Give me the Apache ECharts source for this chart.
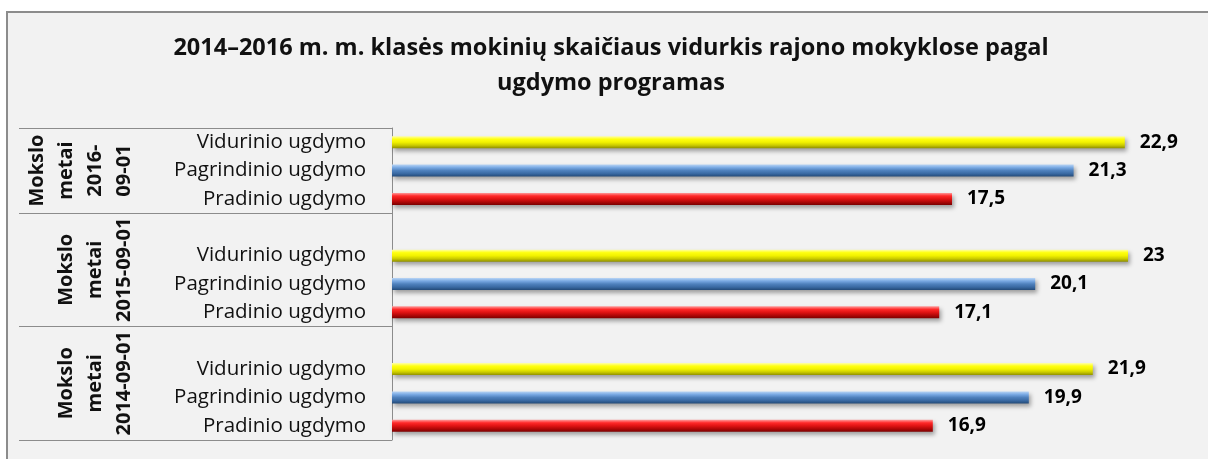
<!DOCTYPE html>
<html>
<head>
<meta charset="utf-8">
<script src="https://cdn.jsdelivr.net/npm/echarts@6/dist/echarts.min.js"></script>
<style>
  html, body { margin: 0; padding: 0; background: #fff; }
  #main { width: 1208px; height: 459px; }
</style>
</head>
<body>
<div id="main"></div>
<script>
var chartDom = document.getElementById('main');
var myChart = echarts.init(chartDom);
var option;

// data, bottom group first (as Excel draws it)
const levels = ['Pradinio ugdymo', 'Pagrindinio ugdymo', 'Vidurinio ugdymo'];
const groupLabels = ['Mokslo\nmetai\n2014-09-01', 'Mokslo\nmetai\n2015-09-01', 'Mokslo\nmetai\n2016-\n09-01'];
const pradinio = [16.9, 17.1, 17.5];
const pagrindinio = [19.9, 20.1, 21.3];
const vidurinio = [21.9, 23, 22.9];

const FONT = '"Open Sans"';

// categories: 3 levels per group, one empty slot between groups
let categories = [];
let levelOf = [];
let groupOf = [];
let groupEdges = [-0.5];
let groupCenters = [];
groupLabels.forEach((g, gi) => {
  let start = categories.length;
  levels.forEach((l, li) => {
    categories.push(l);
    levelOf.push(li);
    groupOf.push(gi);
  });
  if (gi < groupLabels.length - 1) {
    categories.push('');
    levelOf.push(-1);
    groupOf.push(gi);
  }
  let end = categories.length - 1;
  groupEdges.push(end + 0.5);
  groupCenters.push((start - 0.5 + end + 0.5) / 2);
});

function seriesData(values, li) {
  return categories.map((c, i) => levelOf[i] == li ? values[groupOf[i]] : null);
}

function grad(stops) {
  return new echarts.graphic.LinearGradient(0, 0, 0, 1, stops.map((c, i) => ({ offset: i / (stops.length - 1), color: c })));
}

const barStyles = [
  grad(['#ff9a9a', '#ff2a2a', '#e01414', '#b00808', '#7a0000']),
  grad(['#b9d5f5', '#79a9e3', '#4f81bd', '#3a6aa3', '#234a78']),
  grad(['#ffffa8', '#ffff10', '#f2f200', '#cccc00', '#8f8f00'])
];

function makeSeries(name, values, li) {
  return {
    name: name,
    type: 'bar',
    stack: 'one',
    barWidth: 12,
    data: seriesData(values, li),
    itemStyle: {
      color: barStyles[li],
      shadowColor: 'rgba(0,0,0,0.35)',
      shadowBlur: 4,
      shadowOffsetX: 2,
      shadowOffsetY: 3
    },
    label: {
      show: true,
      position: 'right',
      distance: 15,
      fontFamily: FONT,
      fontSize: 19,
      fontWeight: 'bold',
      color: '#000',
      formatter: p => p.value == null ? '' : String(p.value).replace('.', ',')
    }
  };
}

option = {
  backgroundColor: '#fff',
  animation: false,
  graphic: [
    {
      type: 'rect',
      left: 6,
      top: 11,
      z: -10,
      shape: { width: 1220, height: 470 },
      style: { fill: '#f2f2f2', stroke: '#8c8c8c', lineWidth: 2 }
    }
  ],
  title: {
    text: '2014–2016 m. m. klasės mokinių skaičiaus vidurkis rajono mokyklose pagal\nugdymo programas',
    left: 611,
    textAlign: 'center',
    top: 31,
    padding: 0,
    textStyle: {
      fontFamily: FONT,
      fontSize: 23.5,
      fontWeight: 'bold',
      color: '#111',
      lineHeight: 35
    }
  },
  grid: {
    left: 392,
    right: 16,
    top: 128,
    bottom: 19
  },
  xAxis: {
    type: 'value',
    min: 0,
    max: 25,
    show: false
  },
  yAxis: [
    {
      type: 'category',
      data: categories,
      axisLine: { show: false },
      axisTick: { show: false },
      axisLabel: {
        margin: 26,
        fontFamily: FONT,
        fontSize: 20.5,
        color: '#111',
        interval: 0
      }
    },
    {
      type: 'value',
      min: -0.5,
      max: categories.length - 0.5,
      position: 'left',
      splitLine: { show: false },
      axisLine: { show: true, lineStyle: { color: '#8c8c8c', width: 1 } },
      axisTick: {
        show: true,
        customValues: groupEdges,
        length: 373,
        lineStyle: { color: '#8c8c8c', width: 1 }
      },
      axisLabel: {
        customValues: groupCenters,
        rotate: 90,
        margin: 253,
        fontFamily: FONT,
        fontSize: 20,
        fontWeight: 'bold',
        lineHeight: 29,
        color: '#111',
        formatter: v => {
          let i = groupCenters.indexOf(v);
          return i >= 0 ? groupLabels[i] : '';
        }
      }
    }
  ],
  series: [
    makeSeries(levels[0], pradinio, 0),
    makeSeries(levels[1], pagrindinio, 1),
    makeSeries(levels[2], vidurinio, 2)
  ]
};

option && myChart.setOption(option);
</script>
</body>
</html>
